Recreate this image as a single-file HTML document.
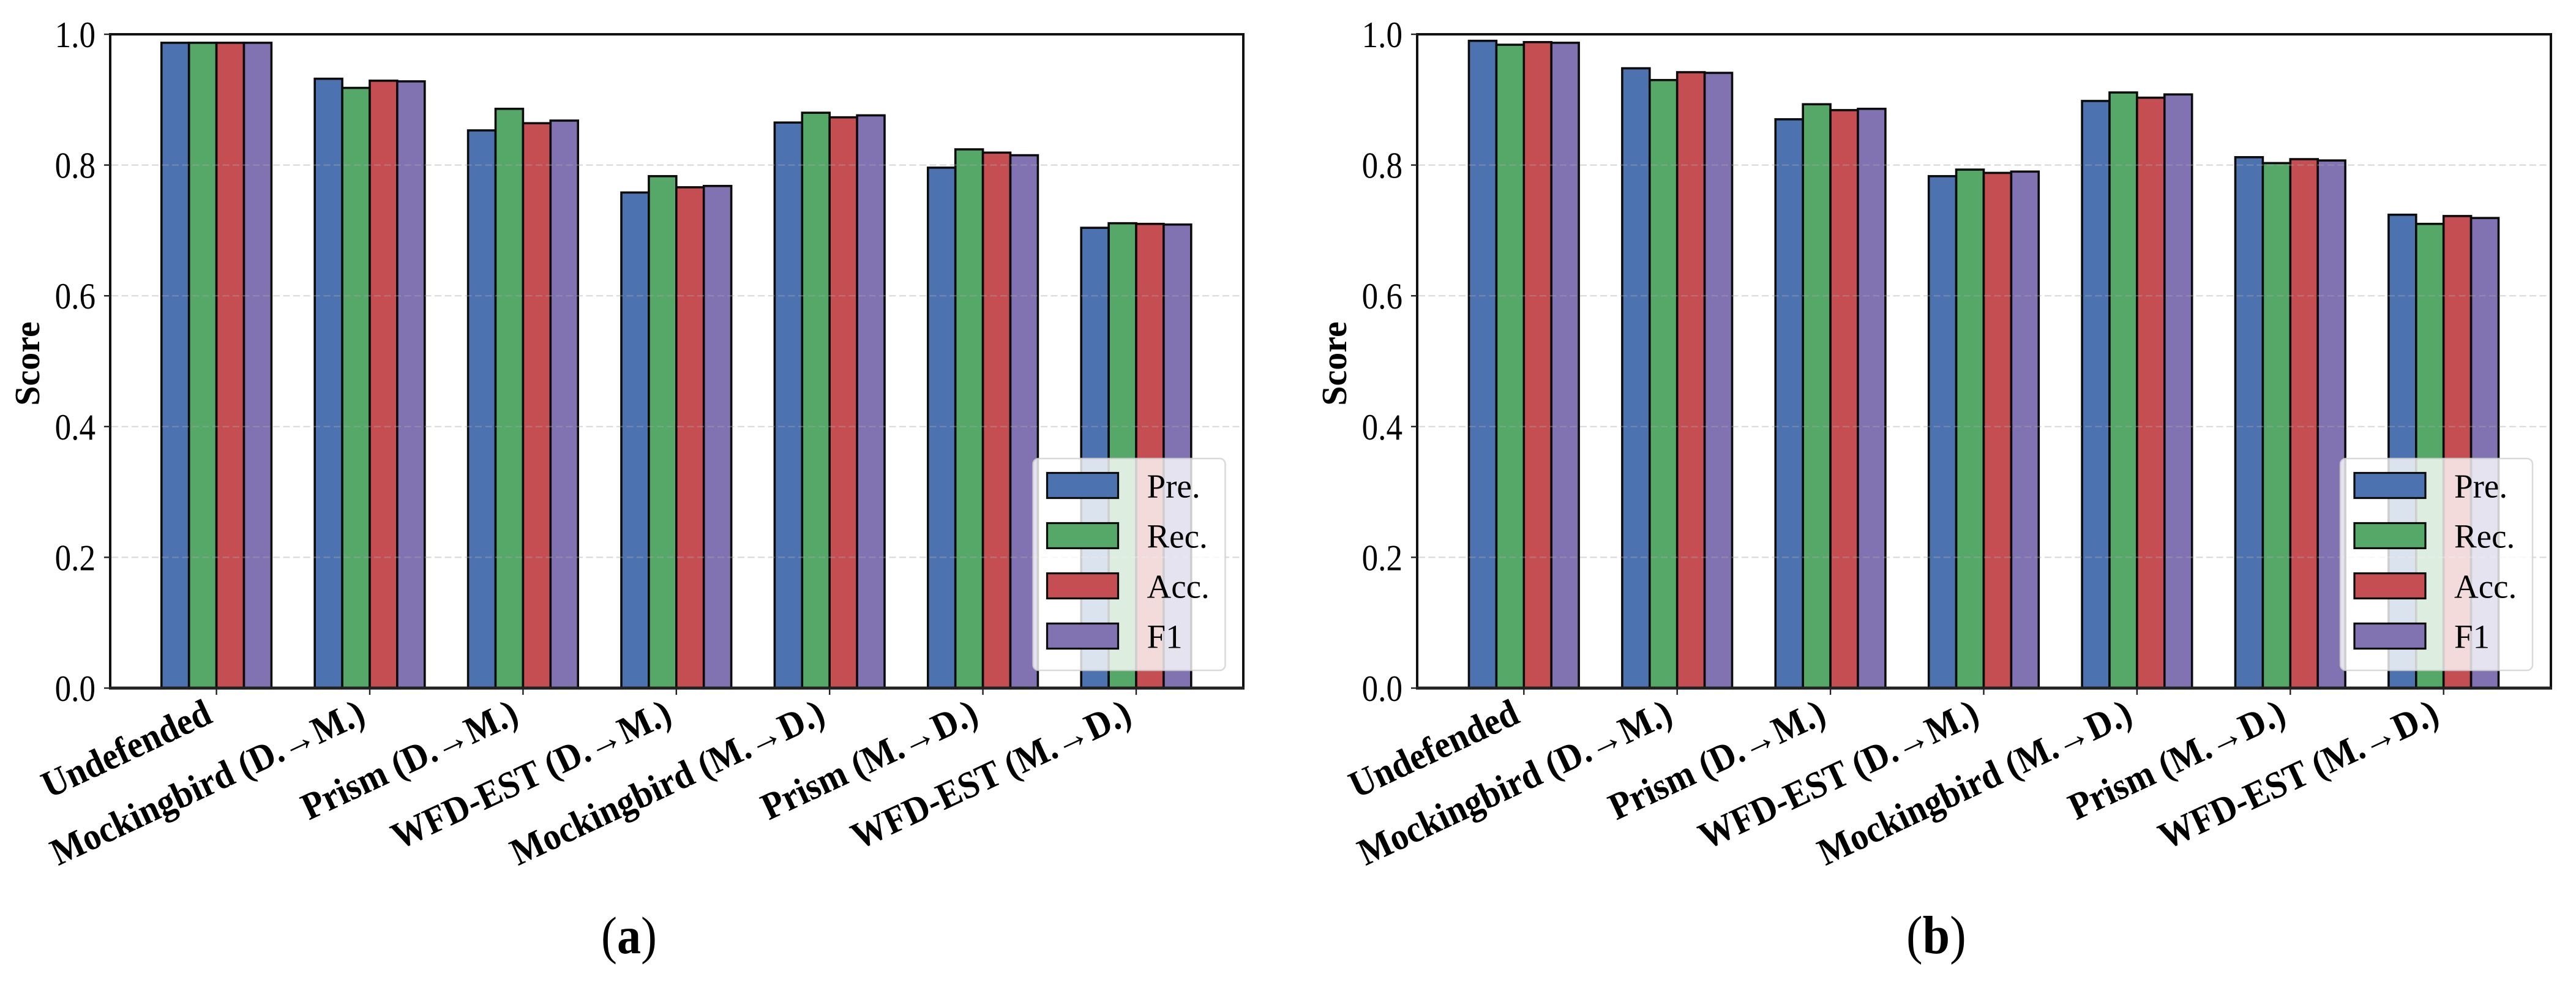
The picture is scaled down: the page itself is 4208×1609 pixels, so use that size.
<!DOCTYPE html>
<html lang="en">
<head>
<meta charset="utf-8">
<title>Score comparison of defenses, panels (a) and (b)</title>
<style>
html,body{margin:0;padding:0;background:#fff;}
svg{display:block;font-family:"Liberation Serif","DejaVu Serif",serif;}
</style>
</head>
<body>
<svg id="figure" xmlns="http://www.w3.org/2000/svg" width="4208" height="1609" viewBox="0 0 4208 1609">
  <rect x="0" y="0" width="4208" height="1609" fill="#ffffff"/>
  <g id="panel-a"></g>
  <g id="panel-b"></g>
  <text transform="translate(982,1557) scale(1,1.1)" font-size="78" fill="#000">(<tspan font-weight="bold">a</tspan>)</text>
  <text transform="translate(3114,1557) scale(1,1.1)" font-size="80" fill="#000">(<tspan font-weight="bold">b</tspan>)</text>
</svg>
<script>
const categories = ["Undefended", "Mockingbird (D.\u2192M.)", "Prism (D.\u2192M.)", "WFD-EST (D.\u2192M.)", "Mockingbird (M.\u2192D.)", "Prism (M.\u2192D.)", "WFD-EST (M.\u2192D.)"];
const seriesNames = ["Pre.", "Rec.", "Acc.", "F1"];
const yTickValues = [0, 0.2, 0.4, 0.6, 0.8, 1.0];
const yTickLabels = ["0.0", "0.2", "0.4", "0.6", "0.8", "1.0"];

const panelAPre = [0.987, 0.932, 0.853, 0.758, 0.865, 0.796, 0.704];
const panelARec = [0.987, 0.918, 0.886, 0.783, 0.880, 0.824, 0.711];
const panelAAcc = [0.987, 0.929, 0.864, 0.766, 0.873, 0.819, 0.710];
const panelAF1  = [0.987, 0.928, 0.868, 0.768, 0.876, 0.815, 0.709];

const panelBPre = [0.990, 0.948, 0.870, 0.783, 0.898, 0.812, 0.724];
const panelBRec = [0.984, 0.930, 0.893, 0.793, 0.911, 0.803, 0.710];
const panelBAcc = [0.988, 0.942, 0.884, 0.788, 0.903, 0.809, 0.722];
const panelBF1  = [0.987, 0.941, 0.886, 0.790, 0.908, 0.807, 0.719];

const SVG_NS = "http://www.w3.org/2000/svg";
const seriesColors = ["#4C72B0", "#55A868", "#C44E52", "#8172B2"];
const plotTop = 56;
const plotBottom = 1124;
const groupStep = 250.4;
const barWidth = 44.9;

function make(parent, tag, attrs, content) {
  const el = document.createElementNS(SVG_NS, tag);
  for (const k in attrs) el.setAttribute(k, attrs[k]);
  if (content !== undefined) el.textContent = content;
  parent.appendChild(el);
  return el;
}

function drawPanel(root, layout, seriesValues) {
  const yScale = v => plotBottom - v * (plotBottom - plotTop);
  const xTick = i => layout.firstTick + i * groupStep;
  const xBar = (g, s) => xTick(g) + (s - 2) * barWidth;

  // Bars
  seriesValues.forEach((values, s) => {
    values.forEach((v, g) => {
      const bar = make(root, "rect", {
        x: xBar(g, s), y: yScale(v), width: barWidth, height: plotBottom - yScale(v),
        fill: seriesColors[s], stroke: "#0c0c0c", "stroke-width": 3.6
      });
      
      
    });
  });

  // Grid lines
  yTickValues.forEach((v, i) => {
    if (v === 0 || v === 1) return;
    const grid = make(root, "line", {
      x1: layout.left + 2, x2: layout.right - 2, y1: yScale(v), y2: yScale(v),
      stroke: "#a8a8a8", "stroke-opacity": 0.42, "stroke-width": 2.2, "stroke-dasharray": "11 5.5"
    });
    
    
  });

  // Frame
  const frame = make(root, "rect", {
    x: layout.left, y: plotTop, width: layout.right - layout.left, height: plotBottom - plotTop,
    fill: "none", stroke: "#111", "stroke-width": 4
  });
  
  
  const baseline = make(root, "line", {
    x1: layout.left - 2, x2: layout.right + 2, y1: plotBottom, y2: plotBottom,
    stroke: "#222", "stroke-width": 5
  });
  
  

  // Y ticks and labels
  yTickValues.forEach((v, i) => {
    const tick = make(root, "line", {
      x1: layout.left - 10, x2: layout.left, y1: yScale(v), y2: yScale(v),
      stroke: "#222", "stroke-width": 2.4
    });
    
    
    const label = make(root, "text", {
      transform: "translate(" + (layout.left - 24) + "," + (yScale(v) + 21) + ") scale(0.9,1.03)",
      "text-anchor": "end", "font-size": 59, fill: "#000"
    }, yTickLabels[i]);
    
    
  });

  // X ticks and labels
  categories.forEach((c, i) => {
    const tick = make(root, "line", {
      x1: xTick(i), x2: xTick(i), y1: plotBottom, y2: plotBottom + 11,
      stroke: "#222", "stroke-width": 2.4
    });
    
    
    const label = make(root, "text", {
      transform: "translate(" + (xTick(i) - 4) + "," + (plotBottom + 55) + ") rotate(-25) scale(1,1.08)",
      "text-anchor": "end", "font-size": 57.5, "font-weight": "bold", fill: "#000"
    }, c);
    
    
  });

  // Y axis title
  const yTitle = make(root, "text", {
    transform: "translate(" + (layout.left - 116) + ",594) rotate(-90)",
    "text-anchor": "middle", "font-size": 58, "font-weight": "bold", fill: "#000"
  }, "Score");
  
  

  // Legend
  const legend = make(root, "g", {});
  
  
  const legendBox = make(legend, "rect", {
    x: layout.legendLeft, y: 749, width: 314, height: 346, rx: 9, ry: 9,
    fill: "#ffffff", "fill-opacity": 0.8, stroke: "#d0d0d0", "stroke-opacity": 0.8, "stroke-width": 2.5
  });
  
  
  seriesNames.forEach((name, s) => {
    const rowTop = 772.5 + s * 82;
    const swatch = make(legend, "rect", {
      x: layout.legendLeft + 23, y: rowTop, width: 116, height: 41,
      fill: seriesColors[s], stroke: "#0c0c0c", "stroke-width": 3.2
    });
    
    
    const text = make(legend, "text", {
      x: layout.legendLeft + 186, y: rowTop + 40, "font-size": 55, fill: "#000"
    }, name);
    
    
  });
}

drawPanel(document.getElementById("panel-a"),
  { left: 180, right: 2031, firstTick: 353.6, legendLeft: 1687.5 },
  [panelAPre, panelARec, panelAAcc, panelAF1]);

drawPanel(document.getElementById("panel-b"),
  { left: 2315, right: 4167, firstTick: 2489.3, legendLeft: 3823 },
  [panelBPre, panelBRec, panelBAcc, panelBF1]);
</script>
</body>
</html>
